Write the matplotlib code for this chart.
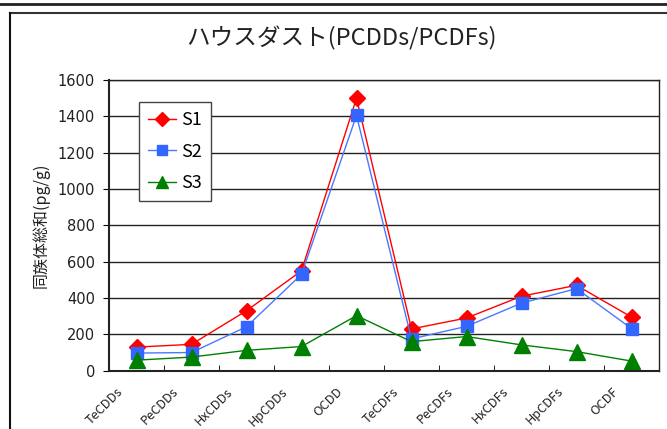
import matplotlib
matplotlib.use("Agg")
import matplotlib.pyplot as plt
from matplotlib.lines import Line2D
import matplotlib.transforms as mtransforms
import numpy as np

plt.rcParams['font.family'] = ['Noto Sans CJK JP', 'DejaVu Sans']

categories = ["TeCDDs", "PeCDDs", "HxCDDs", "HpCDDs", "OCDD",
              "TeCDFs", "PeCDFs", "HxCDFs", "HpCDFs", "OCDF"]
s1 = [130, 145, 330, 550, 1500, 230, 290, 410, 470, 295]
s2 = [97, 100, 242, 530, 1405, 175, 244, 372, 452, 232]
s3 = [58, 75, 112, 133, 303, 160, 188, 142, 105, 53]
yticks = [0, 200, 400, 600, 800, 1000, 1200, 1400, 1600]

W, H = 667, 429
fig = plt.figure(figsize=(W/100, H/100), dpi=100)

# outer frame lines
fig.add_artist(Line2D([0, 1], [1 - 4/H, 1 - 4/H], color='#222222', lw=2))
fig.add_artist(Line2D([10/W, 1], [1 - 13/H, 1 - 13/H], color='#333333', lw=1.5))
fig.add_artist(Line2D([10/W, 10/W], [0, 1 - 13/H], color='#111111', lw=1.5))

left, right, top, bottom = 109, 659, 80, 370.7
ax = fig.add_axes([left/W, 1 - bottom/H, (right-left)/W, (bottom-top)/H])

x = np.arange(len(categories))
ax.plot(x, s1, color='#FF0000', lw=1, marker='D', ms=8, mec='#FF0000', mfc='#FF0000', label='S1')
ax.plot(x, s2, color='#4A78FF', lw=1, marker='s', ms=9, mec='#3366FF', mfc='#3366FF', label='S2')
ax.plot(x, s3, color='#008000', lw=1, marker='^', ms=11, mec='#008000', mfc='#008000', label='S3')

ax.set_xlim(-0.5, len(categories) - 0.5)
ax.set_ylim(0, 1600)
ax.set_yticks(yticks)
ax.set_yticklabels([str(v) for v in yticks], fontsize=10.5, color='#222222',
                   family=['DejaVu Sans'])
ax.yaxis.grid(True, color='#222222', lw=1)
ax.set_axisbelow(True)

ax.set_xticks(x)
ax.set_xticklabels(categories, rotation=45, ha='right', va='top',
                   rotation_mode='anchor', fontsize=9.2, color='#222222')
ax.tick_params(axis='x', which='major', length=0, pad=6)
offset = mtransforms.ScaledTranslation(-0.20, -0.06, fig.dpi_scale_trans)
for lab in ax.get_xticklabels():
    lab.set_transform(lab.get_transform() + offset)
ax.set_xticks(np.arange(0.5, len(categories) - 1, 1.0), minor=True)
ax.tick_params(axis='x', which='minor', direction='in', length=4, color='black')
ax.tick_params(axis='y', direction='out', length=4, color='black', pad=6)

for sp in ax.spines.values():
    sp.set_color('#222222')
    sp.set_linewidth(1)
ax.spines['left'].set_linewidth(1.5)
ax.spines['bottom'].set_linewidth(1.5)

ax.set_ylabel('同族体総和(pg/g)', fontsize=11.5, color='#222222', labelpad=6)

leg = ax.legend(loc='upper left', bbox_to_anchor=((139-left)/(right-left), (bottom-102)/(bottom-top)),
                borderaxespad=0, fontsize=13, frameon=True, fancybox=False,
                edgecolor='#444444', handlelength=1.55, handletextpad=0.3,
                labelspacing=0.75, borderpad=0.5, markerscale=0.85)
leg.get_frame().set_linewidth(1)
leg.get_frame().set_facecolor('white')
leg.get_frame().set_alpha(1)

fig.text(341/W, 1 - 38/H, 'ハウスダスト(PCDDs/PCDFs)', ha='center', va='center',
         fontsize=17, color='#222222')

fig.savefig('out.png', dpi=100)
